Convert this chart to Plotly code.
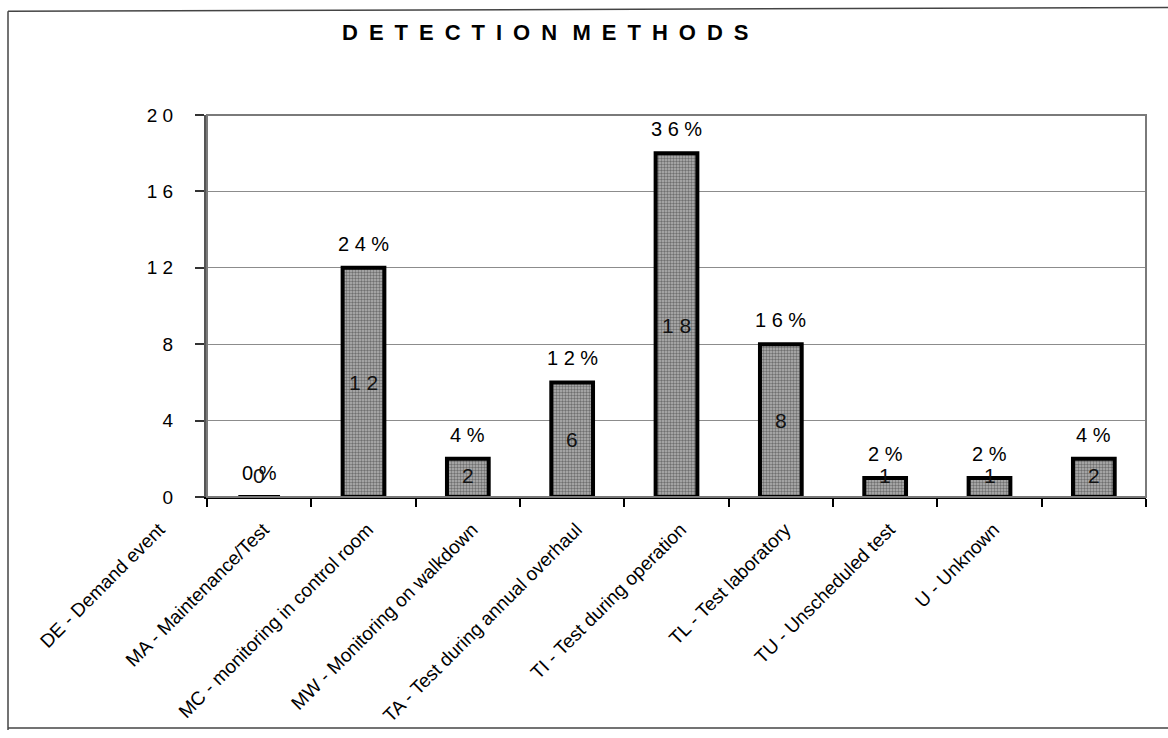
import plotly.graph_objects as go

# Detection method categories and counts
categories = [
    "DE - Demand event",
    "MA - Maintenance/Test",
    "MC - monitoring in control room",
    "MW - Monitoring on walkdown",
    "TA - Test during annual overhaul",
    "TI - Test during operation",
    "TL - Test laboratory",
    "TU - Unscheduled test",
    "U - Unknown",
]
counts = [0, 12, 2, 6, 18, 8, 1, 1, 2]
shares = [0, 24, 4, 12, 36, 16, 2, 2, 4]  # percent of all events

y_tick_values = [0, 4, 8, 12, 16, 20]
y_tick_labels = ["0", "4", "8", "1 2", "1 6", "2 0"]

FONT = "Liberation Sans, Arial, sans-serif"

# plot-area placement in pixels (1168 x 738 canvas)
W, H = 1168, 738
L, R, T, B = 207, 1146, 115, 502


def px_x(p):
    return (p - L) / (R - L)


def px_y(p):
    return (B - p) / (B - T)


def spaced(s):
    return " ".join(s)


fig = go.Figure()

fig.add_trace(go.Bar(
    x=categories,
    y=counts,
    width=0.4,
    marker=dict(
        color="#9a9a9a",
        line=dict(color="black", width=4),
        pattern=dict(shape=".", fgcolor="#2a2a2a", bgcolor="#b4b4b4",
                     size=3, solidity=0.5),
    ),
    hoverinfo="x+y",
))

annotations = []
# percentage labels above each bar
for c, v, s in zip(categories, counts, shares):
    annotations.append(dict(
        x=c, y=v, xref="x", yref="y",
        text=spaced(str(s)) + " %",
        showarrow=False, yanchor="middle", yshift=24,
        font=dict(family=FONT, size=20, color="black"),
    ))
# count labels in the middle of each bar (kept clear of the axis for short bars)
for c, v in zip(categories, counts):
    annotations.append(dict(
        x=c, y=max(v / 2, 1.1), xref="x", yref="y",
        text=spaced(str(v)),
        showarrow=False, yanchor="middle",
        font=dict(family=FONT, size=21, color="#111"),
    ))
# chart title
annotations.append(dict(
    x=px_x(545), y=px_y(31), xref="paper", yref="paper",
    text="<b>" + "\u2002".join("DETECTION") + "\u2002\u2009"
         + "\u2002".join("METHODS") + "</b>",
    showarrow=False, xanchor="center", yanchor="middle",
    font=dict(family=FONT, size=22, color="black"),
))

shapes = [
    # plot-area frame
    dict(type="rect", xref="paper", yref="paper", x0=0, y0=0, x1=1, y1=1,
         line=dict(color="#7a7a7a", width=2), layer="above"),
    # outer chart border (top, left, bottom)
    dict(type="line", xref="paper", yref="paper",
         x0=px_x(8), y0=px_y(10), x1=px_x(1168), y1=px_y(6),
         line=dict(color="#444", width=1.5)),
    dict(type="line", xref="paper", yref="paper",
         x0=px_x(8), y0=px_y(10), x1=px_x(8), y1=px_y(738),
         line=dict(color="#444", width=1.5)),
    dict(type="line", xref="paper", yref="paper",
         x0=px_x(8), y0=px_y(736), x1=px_x(1168), y1=px_y(736),
         line=dict(color="#444", width=1.5)),
]

fig.update_layout(
    width=W, height=H,
    margin=dict(l=L, r=W - R, t=T, b=H - B, pad=0),
    paper_bgcolor="white",
    plot_bgcolor="white",
    showlegend=False,
    bargap=0.6,
    annotations=annotations,
    shapes=shapes,
    font=dict(family=FONT, size=19, color="black"),
)

fig.update_xaxes(
    type="category",
    categoryorder="array", categoryarray=categories,
    showline=True, linecolor="black", linewidth=2,
    ticks="outside", tickson="boundaries", ticklen=8, tickcolor="black",
    tickwidth=1.5,
    tickangle=-45,
    tickfont=dict(family=FONT, size=19, color="black"),
    ticklabelshift=-100,
    ticklabelstandoff=12,
    showgrid=False,
)

fig.update_yaxes(
    range=[0, 20],
    tickvals=y_tick_values, ticktext=y_tick_labels,
    showline=True, linecolor="#555", linewidth=3,
    ticks="outside", ticklen=9, tickcolor="#333", tickwidth=1.5,
    tickfont=dict(family=FONT, size=19, color="black"),
    ticklabelstandoff=18,
    showgrid=True, gridcolor="#8c8c8c", gridwidth=1,
    zeroline=False,
)

fig.write_html("out.html")
